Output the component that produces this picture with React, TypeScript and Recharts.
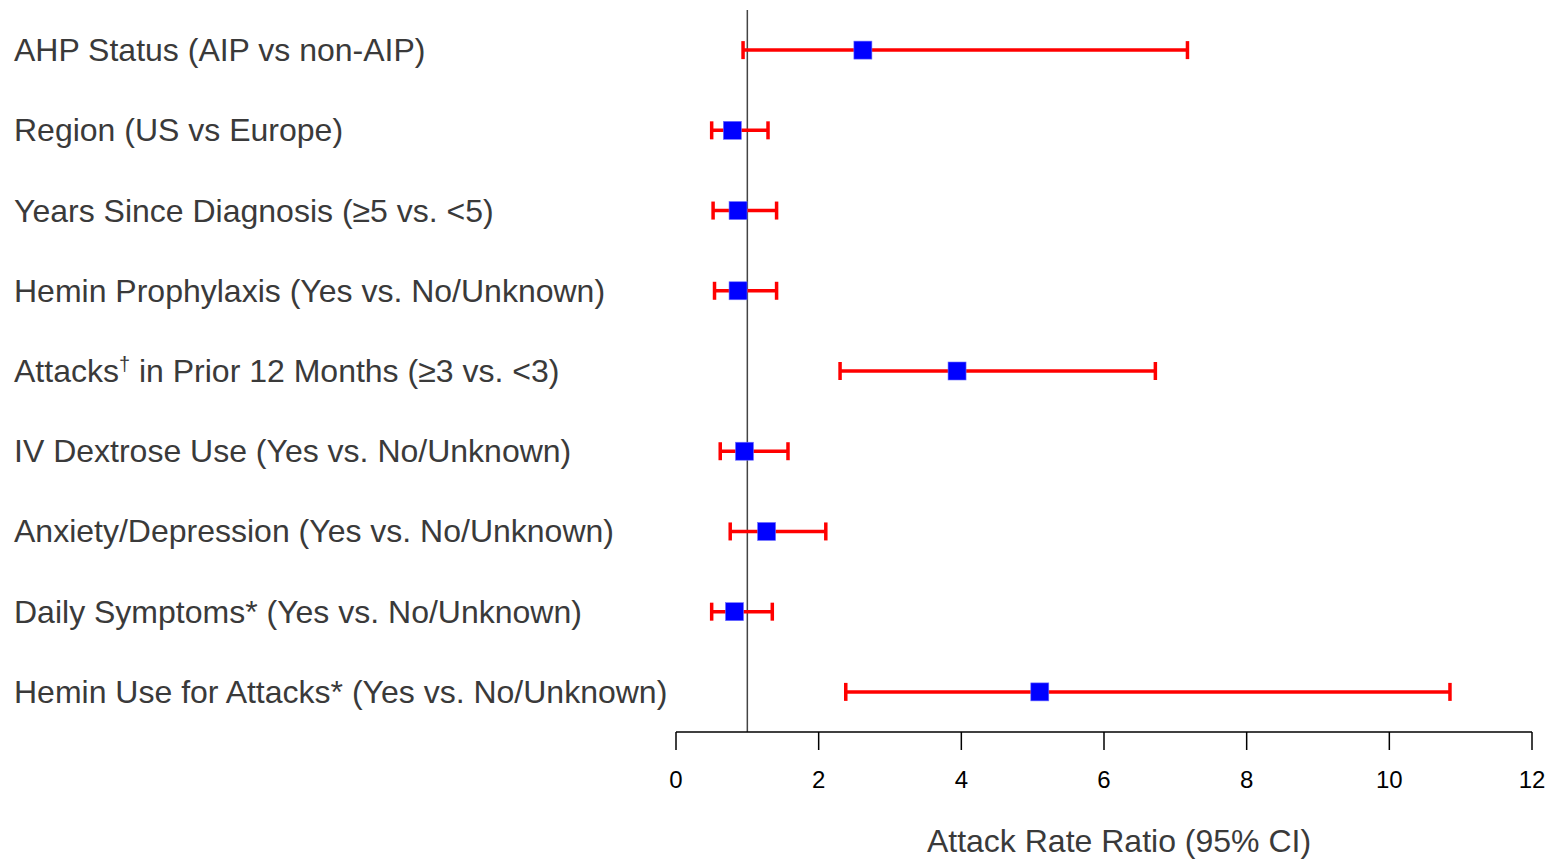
import React from 'react';
import { ScatterChart, Scatter, XAxis, YAxis, ErrorBar, ReferenceLine } from 'recharts';

const factors = [
  'AHP Status (AIP vs non-AIP)',
  'Region (US vs Europe)',
  'Years Since Diagnosis (≥5 vs. <5)',
  'Hemin Prophylaxis (Yes vs. No/Unknown)',
  'Attacks† in Prior 12 Months (≥3 vs. <3)',
  'IV Dextrose Use (Yes vs. No/Unknown)',
  'Anxiety/Depression (Yes vs. No/Unknown)',
  'Daily Symptoms* (Yes vs. No/Unknown)',
  'Hemin Use for Attacks* (Yes vs. No/Unknown)',
];
const ratios = [2.62, 0.79, 0.87, 0.87, 3.94, 0.96, 1.27, 0.82, 5.1];
const lower = [0.94, 0.5, 0.52, 0.54, 2.3, 0.62, 0.76, 0.5, 2.38];
const upper = [7.17, 1.29, 1.41, 1.41, 6.72, 1.57, 2.1, 1.35, 10.85];
const xTicks = [0, 2, 4, 6, 8, 10, 12];
const rows = [0, 1, 2, 3, 4, 5, 6, 7, 8];

const data = factors.map((name, i) => ({
  row: rows[i],
  name,
  rr: ratios[i],
  ci: [ratios[i] - lower[i], upper[i] - ratios[i]],
}));

const FONT = 'Liberation Sans, Arial, sans-serif';

const FactorTick = (props: any) => {
  const { y, payload } = props;
  const name = factors[payload.value] ?? '';
  const parts = name.split('†');
  return (
    <text x={14} y={y} dy={11} fontSize={32} fill="#3a3a3a" fontFamily={FONT} textAnchor="start">
      {parts.length > 1 ? (
        <>
          <tspan>{parts[0]}</tspan>
          <tspan fontSize={20} dy={-11}>†</tspan>
          <tspan dy={11}>{parts[1]}</tspan>
        </>
      ) : (
        name
      )}
    </text>
  );
};

const SquareMarker = (props: any) => {
  const { cx, cy } = props;
  return <rect x={cx - 9} y={cy - 9} width={18} height={18} fill="#0000FF" stroke="#7070ff" strokeWidth={0.6} />;
};

const App = () => {
  return (
    <div style={{ position: 'absolute', left: 0, top: 0, background: '#fff' }}>
      <ScatterChart width={1557} height={859} margin={{ top: 10, right: 25, bottom: 0, left: 0 }}>
        <XAxis
          type="number"
          dataKey="rr"
          domain={[0, 12]}
          ticks={xTicks}
          allowDataOverflow
          height={127}
          tickSize={18}
          tickMargin={21}
          stroke="#000"
          strokeWidth={1.5}
          tick={{ fill: '#000', fontSize: 24, fontFamily: FONT }}
          label={{
            value: 'Attack Rate Ratio (95% CI)',
            position: 'insideBottom',
            offset: 7,
            dx: 15,
            fill: '#3a3a3a',
            fontSize: 32,
            fontFamily: FONT,
          }}
        />
        <YAxis
          type="number"
          dataKey="row"
          domain={[-0.5, 8.5]}
          ticks={rows}
          reversed
          width={676}
          axisLine={false}
          tickLine={false}
          tick={<FactorTick />}
        />
        <ReferenceLine x={1} stroke="#444" strokeWidth={1.5} />
        <Scatter data={data} shape={<SquareMarker />} isAnimationActive={false}>
          <ErrorBar dataKey="ci" direction="x" width={9} stroke="#FF0000" strokeWidth={3.5} isAnimationActive={false} />
        </Scatter>
      </ScatterChart>
    </div>
  );
};

export default App;
